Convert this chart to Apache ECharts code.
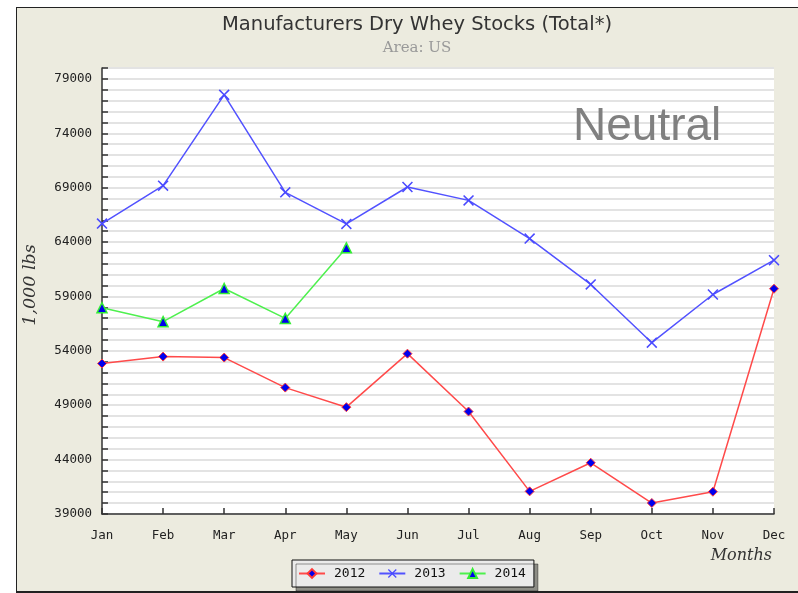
<!DOCTYPE html>
<html>
<head>
<meta charset="utf-8">
<script src="https://cdn.jsdelivr.net/npm/echarts@6/dist/echarts.min.js"></script>
<style>
  html, body { margin: 0; padding: 0; background: #ffffff; }
  #frame {
    position: absolute; left: 16px; top: 7px; width: 790px; height: 583px;
    background: #ecebdf; border-top: 1.5px solid #222; border-left: 1.5px solid #222; border-bottom: 2px solid #222;
  }
  #chart { position: absolute; left: 0; top: 0; width: 798px; height: 593px; }
</style>
</head>
<body>
<div id="frame"></div>
<div id="chart"></div>
<script>
// Monthly stocks, 1,000 lbs
const months = ['Jan', 'Feb', 'Mar', 'Apr', 'May', 'Jun', 'Jul', 'Aug', 'Sep', 'Oct', 'Nov', 'Dec'];
const stocks2012 = [52830, 53470, 53380, 50620, 48820, 53740, 48420, 41080, 43710, 40010, 41050, 59710];
const stocks2013 = [65700, 69180, 77530, 68570, 65670, 69060, 67830, 64320, 60100, 54750, 59180, 62330];
const stocks2014 = [57960, 56680, 59730, 56980, 63470];
const yMin = 39000, yMax = 80000, yStep = 1000, yLabelStep = 5000;

const monoFont = '"DejaVu Sans Mono", monospace';
const crossPath = 'path://M0,1L1,0L5,4L9,0L10,1L6,5L10,9L9,10L5,6L1,10L0,9L4,5Z';

const chart = echarts.init(document.getElementById('chart'), null, { renderer: 'canvas' });
chart.setOption({
  animation: false,
  backgroundColor: 'transparent',
  title: {
    text: 'Manufacturers Dry Whey Stocks (Total*)',
    subtext: 'Area: US',
    left: 412, top: 10, textAlign: 'center', itemGap: 6,
    textStyle: { fontFamily: '"DejaVu Sans", sans-serif', fontSize: 19.5, fontWeight: 'normal', color: '#333' },
    subtextStyle: { fontFamily: '"DejaVu Serif", serif', fontSize: 15, color: '#999' }
  },
  grid: {
    left: 102, right: 24, top: 68, bottom: 79,
    show: true, backgroundColor: '#ffffff', borderWidth: 0
  },
  xAxis: {
    type: 'category', data: months, boundaryGap: false,
    axisLine: { lineStyle: { color: '#333', width: 1.5 } },
    axisTick: { inside: true, length: 6, interval: 0, lineStyle: { color: '#333', width: 1.5 } },
    axisLabel: { margin: 15, interval: 0, fontFamily: monoFont, fontSize: 12.5, color: '#222' },
    splitLine: { show: false }
  },
  yAxis: {
    type: 'value', min: yMin, max: yMax, interval: yStep,
    axisLine: { show: true, lineStyle: { color: '#333', width: 1.5 } },
    axisTick: { show: true, inside: true, length: 6, lineStyle: { color: '#333', width: 1.5 } },
    axisLabel: {
      margin: 10, fontFamily: monoFont, fontSize: 12.5, color: '#222',
      formatter: v => ((v - yMin) % yLabelStep === 0 && v !== yMax ? String(v) : '')
    },
    splitLine: { show: true, lineStyle: { color: '#e3e3e3', width: 2 } }
  },
  legend: {
    left: 292, top: 560, orient: 'horizontal',
    padding: [7, 8, 7, 6], itemGap: 13, itemWidth: 26, itemHeight: 11,
    backgroundColor: '#ebebeb', borderColor: '#111', borderWidth: 1,
    shadowColor: 'rgba(0,0,0,0.4)', shadowOffsetX: 4, shadowOffsetY: 4, shadowBlur: 0,
    textStyle: { fontFamily: monoFont, fontSize: 13, color: '#111', padding: [0, 0, 0, 4] },
    data: ['2012', '2013', '2014']
  },
  graphic: [
    {
      type: 'text', left: 573, top: 104, z: 5,
      style: { text: 'Neutral', font: '46px "Liberation Sans", Arial, sans-serif', fill: '#808080' }
    },
    {
      type: 'text', x: 30, y: 285, rotation: Math.PI / 2, z: 5,
      style: {
        text: '1,000 lbs', font: 'italic 17.5px "DejaVu Serif", serif', fill: '#333',
        align: 'center', verticalAlign: 'middle'
      }
    },
    {
      type: 'text', x: 772, y: 556, z: 5,
      style: {
        text: 'Months', font: 'italic 16px "DejaVu Serif", serif', fill: '#333',
        align: 'right', verticalAlign: 'middle'
      }
    }
  ],
  series: [
    {
      name: '2012', type: 'line', data: stocks2012,
      symbol: 'diamond', symbolSize: 9, showAllSymbol: true,
      lineStyle: { color: '#ff4a4a', width: 1.5 },
      itemStyle: { color: '#0000ee', borderColor: '#ff3a3a', borderWidth: 1 }
    },
    {
      name: '2013', type: 'line', data: stocks2013,
      symbol: crossPath, symbolSize: 11, showAllSymbol: true,
      lineStyle: { color: '#5252ff', width: 1.5 },
      itemStyle: { color: '#4a4aff', borderWidth: 0 }
    },
    {
      name: '2014', type: 'line', data: stocks2014,
      symbol: 'triangle', symbolSize: 10, showAllSymbol: true,
      lineStyle: { color: '#4ef04e', width: 1.5 },
      itemStyle: { color: '#0000ee', borderColor: '#33ee33', borderWidth: 1.5 }
    }
  ]
});
</script>
</body>
</html>
